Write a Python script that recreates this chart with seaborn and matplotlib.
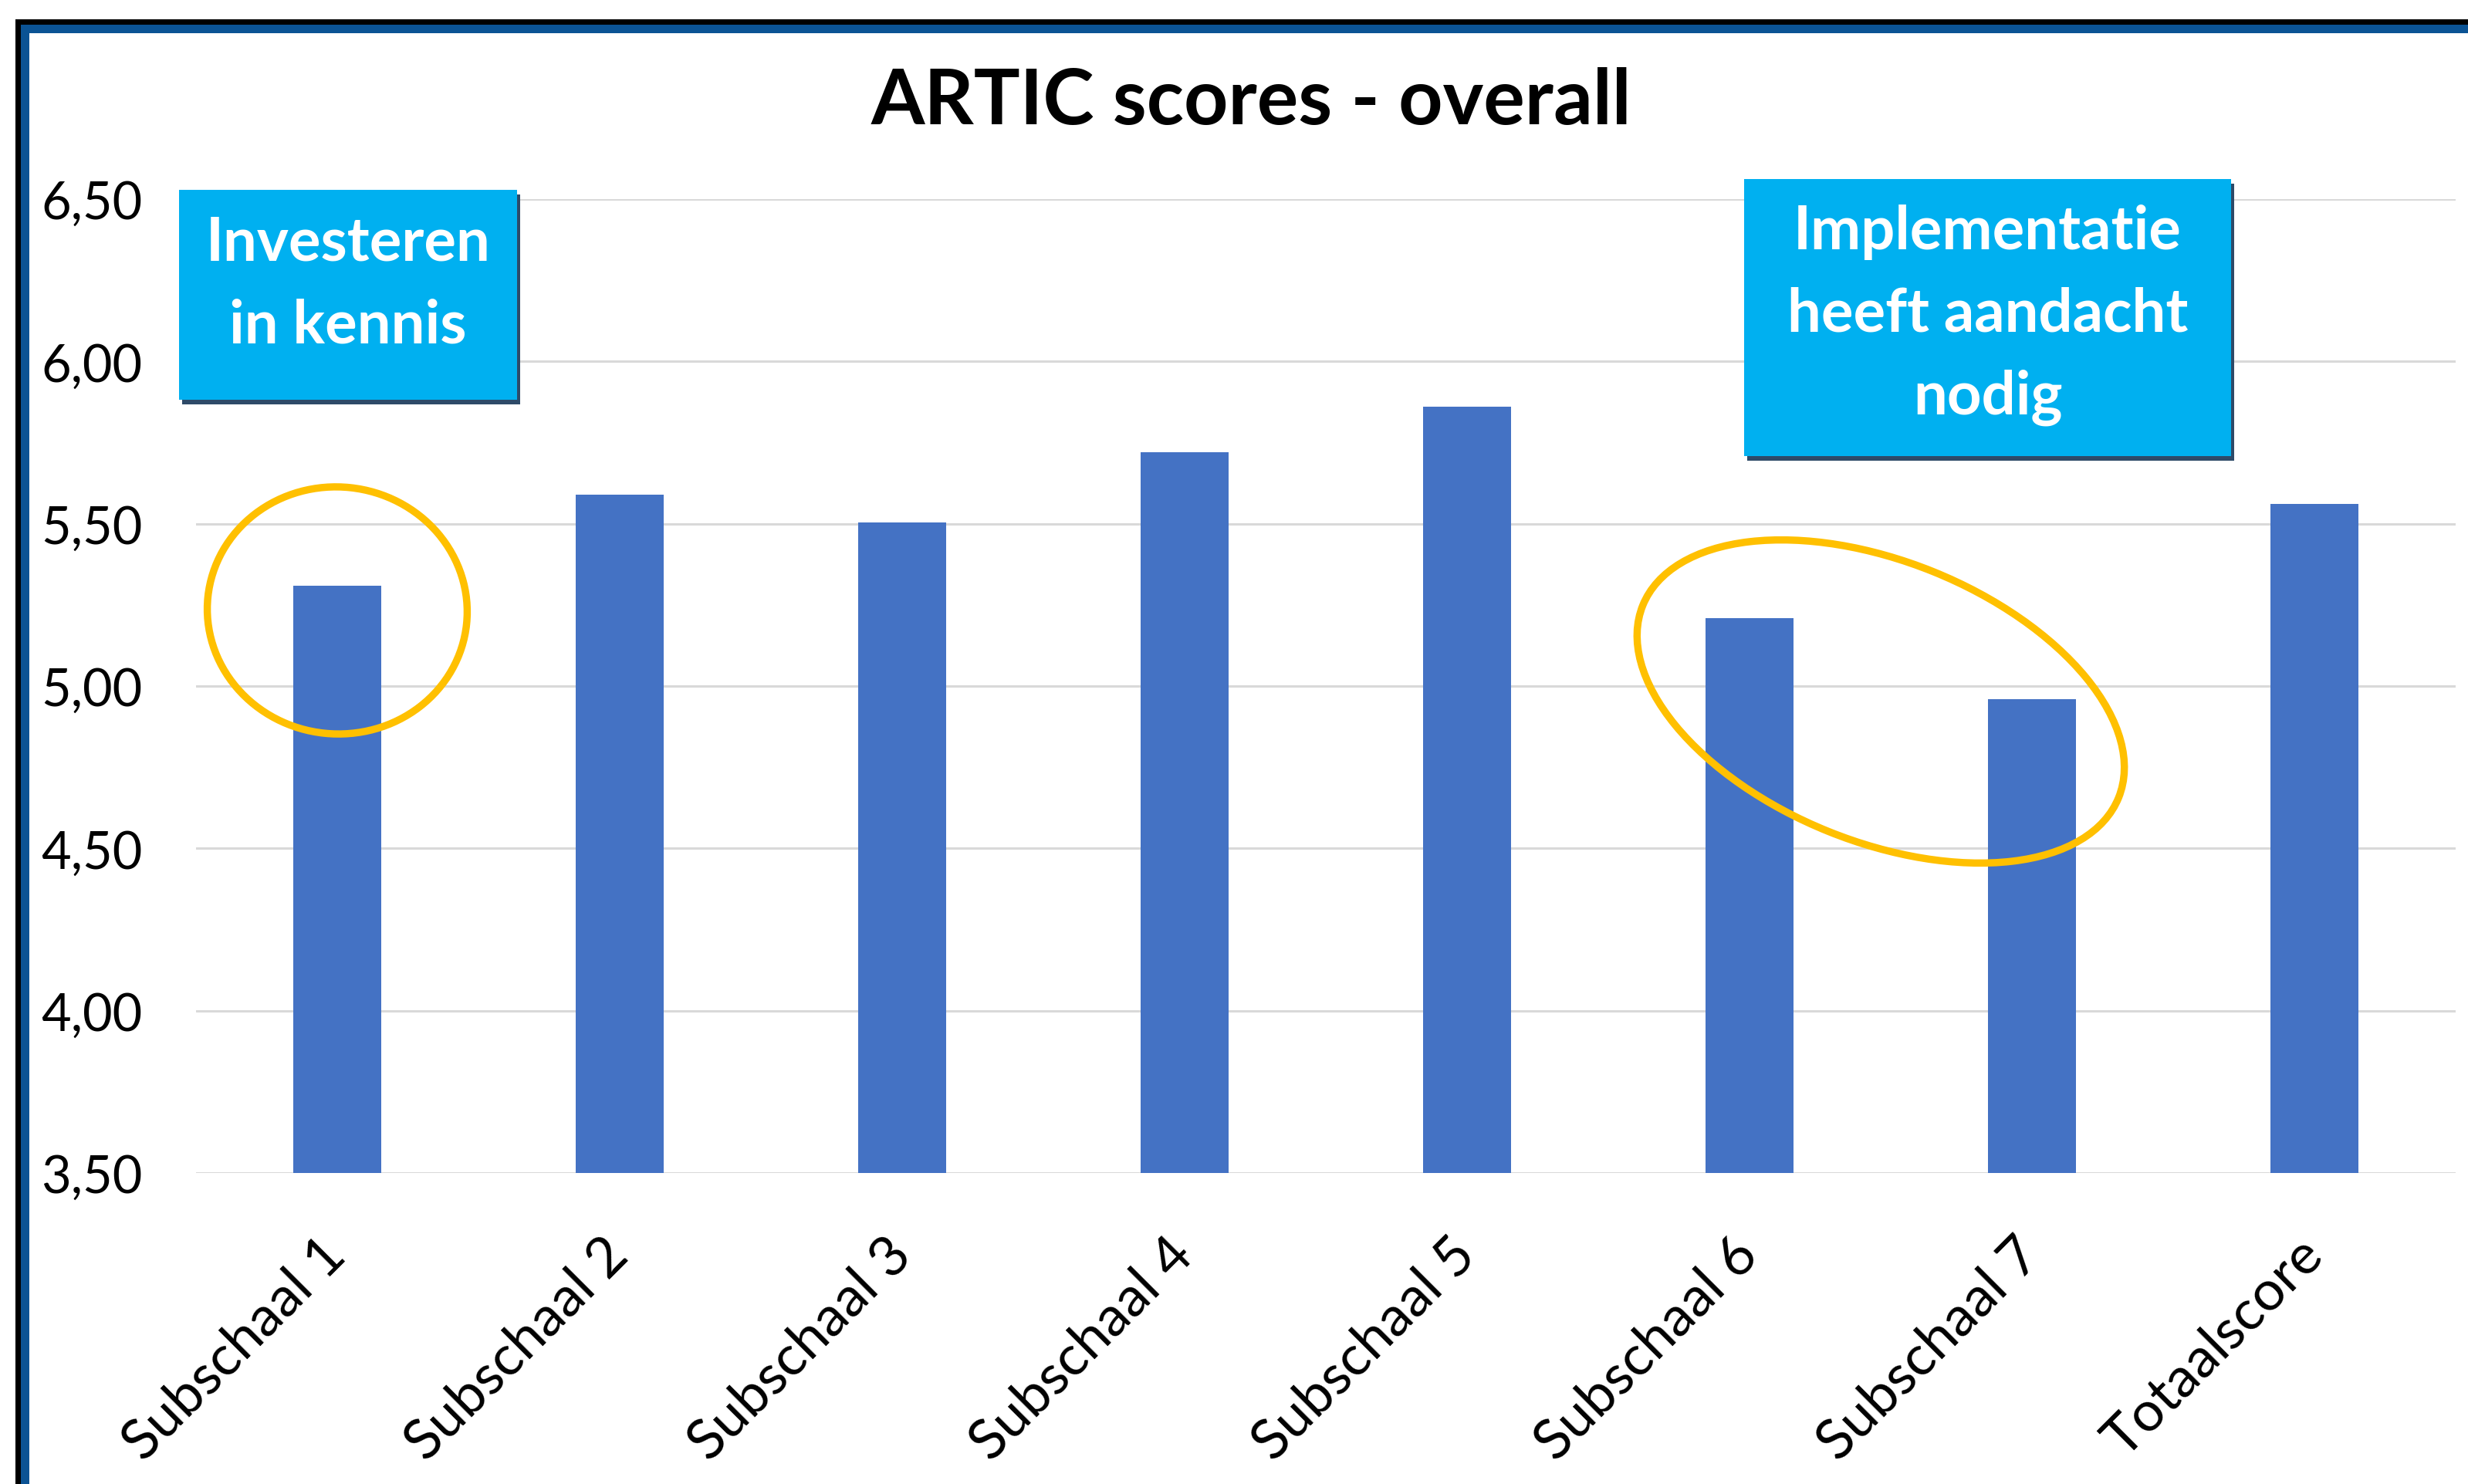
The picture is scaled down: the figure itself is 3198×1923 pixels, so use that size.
import pandas as pd
import matplotlib
matplotlib.use('Agg')
import matplotlib.pyplot as plt
import seaborn as sns
from matplotlib.patches import Ellipse, Rectangle
from matplotlib.transforms import IdentityTransform

# Data
categories = ['Subschaal 1', 'Subschaal 2', 'Subschaal 3', 'Subschaal 4',
              'Subschaal 5', 'Subschaal 6', 'Subschaal 7', 'Totaalscore']
scores = [5.31, 5.59, 5.505, 5.72, 5.86, 5.21, 4.96, 5.56]
y_ticks = [3.5, 4.0, 4.5, 5.0, 5.5, 6.0, 6.5]
y_tick_labels = ['3,50', '4,00', '4,50', '5,00', '5,50', '6,00', '6,50']
title = 'ARTIC scores - overall'
box_left_text = 'Investeren\nin kennis'
box_right_text = 'Implementatie\nheeft aandacht\nnodig'

W, H, DPI = 3198, 1924, 200
BAR = '#4472C4'
BOX = '#00B0F0'
SHADOW = '#2E4A68'
RING = '#FFC000'

sns.set_theme(style='white')
plt.rcParams['font.family'] = ['Lato', 'DejaVu Sans']

fig = plt.figure(figsize=(W / DPI, H / DPI), dpi=DPI)
fig.patch.set_facecolor('white')

# axes placed in image pixels (left, top, right, bottom)
L, T, R, B = 254, 259, 3182, 1521
ax = fig.add_axes([L / W, 1 - B / H, (R - L) / W, (B - T) / H])

df = pd.DataFrame({'categorie': categories, 'score': scores})
sns.barplot(data=df, x='categorie', y='score', color=BAR, saturation=1,
            width=0.31, linewidth=0, ax=ax)

ax.set_ylim(3.5, 6.5)
ax.set_yticks(y_ticks)
ax.set_yticklabels(y_tick_labels, fontsize=24, color='black')
ax.yaxis.grid(True, color='#D9D9D9', linewidth=1.1)
ax.set_axisbelow(True)
for s in ax.spines.values():
    s.set_visible(False)
ax.tick_params(axis='y', length=0, pad=25)
ax.tick_params(axis='x', length=0, pad=34)
ax.set_xlabel('')
ax.set_ylabel('')
plt.setp(ax.get_xticklabels(), rotation=45, ha='right', va='center',
         rotation_mode='anchor', fontsize=26, color='black')

fig.text(1621 / W, 1 - 133 / H, title, ha='center', va='center',
         fontsize=36, fontweight='bold', color='black')


def px_rect(x0, y0, x1, y1, color, z):
    r = Rectangle((x0 / W, 1 - y1 / H), (x1 - x0) / W, (y1 - y0) / H,
                  transform=fig.transFigure, facecolor=color,
                  edgecolor='none', zorder=z)
    fig.add_artist(r)


def text_box(x0, y0, x1, y1, text, dy):
    px_rect(x0 + 4, y0 + 6, x1 + 4, y1 + 6, SHADOW, 5)
    px_rect(x0, y0, x1, y1, BOX, 6)
    fig.text((x0 + x1) / 2 / W, 1 - ((y0 + y1) / 2 + dy) / H, text,
             ha='center', va='center', fontsize=28, fontweight='bold',
             color='white', linespacing=1.6, zorder=7)


text_box(232, 247, 670, 519, box_left_text, -14)
text_box(2260, 233, 2891, 592, box_right_text, -4)


def ring(cx, cy, w, h, angle):
    e = Ellipse((cx, H - cy), w, h, angle=angle, transform=IdentityTransform(),
                fill=False, edgecolor=RING, linewidth=3.4, zorder=8)
    fig.add_artist(e)


ring(437, 792, 337, 320, -6)
ring(2437, 910, 665, 363, -22)

# frame on the left and top edge
px_rect(20, 26, W + 10, 33, 'black', 9)
px_rect(20, 26, 27, H + 10, 'black', 9)
px_rect(27, 33, W + 10, 44, '#0B5394', 9)
px_rect(27, 33, 38, H + 10, '#0B5394', 9)

fig.savefig('out.png', dpi=DPI)
